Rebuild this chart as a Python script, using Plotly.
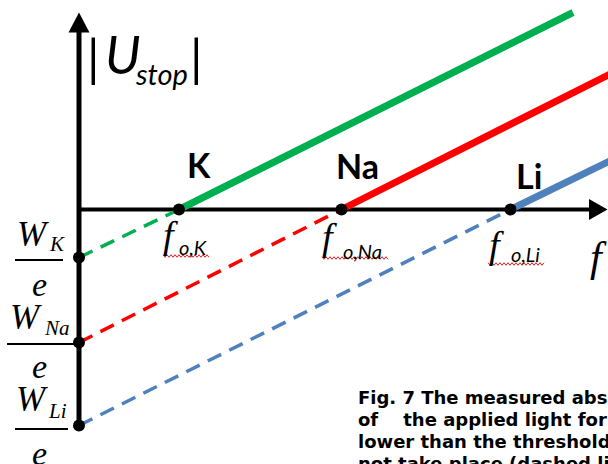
import numpy as np
import plotly.graph_objects as go

# ---- data -------------------------------------------------------------
elements = ["K", "Na", "Li"]
threshold_f = [1.00, 2.625, 4.315]      # f_o : frequency where |U_stop| becomes 0
work_over_e = [0.48, 1.33, 2.16]        # W/e : intercept below the origin
end_f = [4.94, 5.40, 5.40]              # where each solid line stops
end_u = [1.97, 1.40, 0.53]              # |U_stop| at that end
colors = ["#00B050", "#FF0000", "#4F81BD"]
sub_labels = ["o,K", "o,Na", "o,Li"]
caption_lines = [
    "Fig. 7 The measured absolute value",
    "of\u00a0\u00a0\u00a0\u00a0the applied light for",
    "lower than the threshold frequency",
    "not take place (dashed lines)",
]

# ---- canvas: 1 data unit = 100 px, origin of the axes at (79, 209.5) ----
W_PX, H_PX = 608, 464
OX, OY = 79.0, 209.5


def X(px):
    return (px - OX) / 100.0


def Y(py):
    return (OY - py) / 100.0


fig = go.Figure()

# dashed part (below threshold) and solid part (above threshold)
for el, f0, we, fe, ue, c in zip(elements, threshold_f, work_over_e, end_f, end_u, colors):
    fig.add_trace(go.Scatter(x=[0, f0], y=[-we, 0], mode="lines",
                             line=dict(color=c, width=3.5, dash="15px,9px"),
                             hoverinfo="skip", showlegend=False))
    fig.add_trace(go.Scatter(x=[f0, fe], y=[0, ue], mode="lines",
                             line=dict(color=c, width=7),
                             hoverinfo="skip", showlegend=False))

# black dots on both axes
fig.add_trace(go.Scatter(x=threshold_f + [0, 0, 0], y=[0, 0, 0] + [-w for w in work_over_e],
                         mode="markers", marker=dict(color="black", size=12),
                         hoverinfo="skip", showlegend=False))

shapes = []
# vertical axis with arrow
shapes.append(dict(type="line", xref="x", yref="y", x0=0, x1=0,
                   y0=-max(work_over_e), y1=Y(30), line=dict(color="black", width=5),
                   layer="below"))
shapes.append(dict(type="path", xref="x", yref="y",
                   path=f"M {X(68.5)},{Y(32.5)} L {X(79)},{Y(12.5)} L {X(89.5)},{Y(32.5)} Z",
                   fillcolor="black", line=dict(width=0), layer="below"))
# horizontal axis with arrow
shapes.append(dict(type="line", xref="x", yref="y", x0=0, x1=X(592),
                   y0=0, y1=0, line=dict(color="black", width=4), layer="below"))
shapes.append(dict(type="path", xref="x", yref="y",
                   path=f"M {X(589)},{Y(199)} L {X(607.5)},{Y(209.5)} L {X(589)},{Y(220)} Z",
                   fillcolor="black", line=dict(width=0), layer="below"))

annotations = []


def text(px, py, s, size, family, color="black", xanchor="center", yanchor="middle"):
    annotations.append(dict(x=X(px), y=Y(py), xref="x", yref="y", text=s,
                            showarrow=False, xanchor=xanchor, yanchor=yanchor,
                            font=dict(size=size, family=family, color=color)))


def squiggle(x0, x1, yc):
    xs = np.arange(x0, x1 + 0.1, 2.0)
    pts = [f"{X(x)},{Y(yc + (1.3 if i % 2 else -1.3))}" for i, x in enumerate(xs)]
    shapes.append(dict(type="path", xref="x", yref="y", path="M " + " L ".join(pts),
                       line=dict(color="#E02020", width=1)))


# |U_stop| axis title
text(93, 57, "|", 50, "Lato")
text(123, 54, "<i>U</i>", 52, "Lato")
text(161, 73, "<i>stop</i>", 29, "Lato")
text(196, 57, "|", 50, "Lato")

# element names above the thresholds
label_pos = [(199, 164), (357, 165), (529, 175)]
for el, (px, py) in zip(elements, label_pos):
    text(px, py, f"<b>{el}</b>", 34, "Lato")

# f_o labels under the thresholds
f_pos = [(170, 235), (329, 237), (496, 245)]
sub_pos = [(193, 247), (362, 251), (525, 254)]
sq = [(163, 209, 256), (322, 388, 258), (488, 545, 264)]
for (fx, fy), (sx, sy), lab, (a, b, c) in zip(f_pos, sub_pos, sub_labels, sq):
    text(fx, fy, "<i>f</i>", 38, "Liberation Serif")
    text(sx, sy, f"<i>{lab}</i>", 20, "Lato")
    squiggle(a, b, c)

# frequency axis title
text(598, 257, "<i>f</i>", 42, "Liberation Serif")

# W/e fractions on the vertical axis
frac = [  # W center, subscript center, bar y, bar x-range, e center
    ((33, 234), (57, 244), 260, (15, 63), (39, 284)),
    ((26, 317), (57, 328), 344, (7, 78), (39, 366)),
    ((32, 399), (57, 411), 429, (15, 68), (39, 453)),
]
for el, (wp, sp, by, (bx0, bx1), ep) in zip(elements, frac):
    text(wp[0], wp[1], "<i>W</i>", 35, "Liberation Serif")
    text(sp[0], sp[1], f"<i>{el}</i>", 21, "Liberation Serif")
    text(ep[0], ep[1], "<i>e</i>", 34, "Liberation Serif")
    shapes.append(dict(type="line", xref="x", yref="y", x0=X(bx0), x1=X(bx1),
                       y0=Y(by), y1=Y(by), line=dict(color="black", width=2)))

# figure caption, one annotation per line (runs past the edge of the page)
for i, line in enumerate(caption_lines):
    text(356, 397 + 22 * i, f"<b>{line}</b>", 18, "DejaVu Sans", xanchor="left")

fig.update_layout(
    width=W_PX, height=H_PX,
    margin=dict(l=0, r=0, t=0, b=0),
    paper_bgcolor="white", plot_bgcolor="white",
    xaxis=dict(range=[X(0), X(W_PX)], visible=False, fixedrange=True),
    yaxis=dict(range=[Y(H_PX), Y(0)], visible=False, fixedrange=True),
    shapes=shapes, annotations=annotations, showlegend=False,
)

fig.write_html("out.html")
